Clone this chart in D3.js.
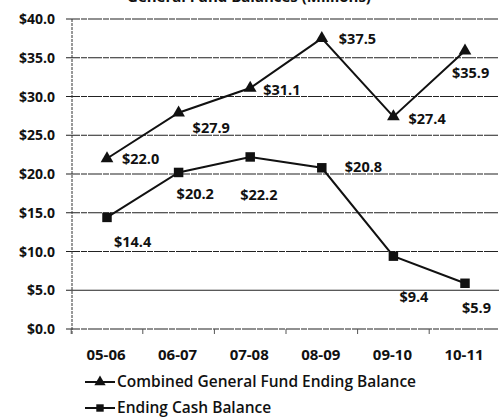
<!DOCTYPE html>
<html>
<head>
<meta charset="utf-8">
<script src="https://cdn.jsdelivr.net/npm/d3@7"></script>
<style>
  body { margin: 0; background: #fff; }
  text { font-family: "Open Sans", "DejaVu Sans", sans-serif; font-weight: 700; fill: #111; }
</style>
</head>
<body>
<svg id="chart" width="499" height="417"></svg>
<script>
var years = ["05-06", "06-07", "07-08", "08-09", "09-10", "10-11"];
var general_fund = [22.0, 27.9, 31.1, 37.5, 27.4, 35.9];
var cash_balance = [14.4, 20.2, 22.2, 20.8, 9.4, 5.9];
var y_ticks = [0, 5, 10, 15, 20, 25, 30, 35, 40];
var series_names = ["Combined General Fund Ending Balance", "Ending Cash Balance"];

// label nudges (dx, dy) per point, Excel put them all over the place
var fund_label_off = [[15, 5], [14, 20], [13, 7], [17, 6], [15, 7], [-13, 27]];
var cash_label_off = [[7, 30], [-2, 27], [-10, 43], [23, 4], [6, 46], [-3, 30]];

var svg = d3.select("#chart");

var x = d3.scalePoint()
    .domain(years)
    .range([107, 465]);
var y = d3.scaleLinear()
    .domain([0, 40])
    .range([329, 19]);

// title, cut off by the top of the picture
svg.append("text")
    .attr("x", 249)
    .attr("y", 2)
    .attr("text-anchor", "middle")
    .style("font-size", "15px")
    .text("General Fund Balances (Millions)");

// gridlines
svg.selectAll(".grid").data(y_ticks).enter().append("line")
    .attr("class", "grid")
    .attr("x1", 66).attr("x2", 499)
    .attr("y1", function(d) { return y(d); })
    .attr("y2", function(d) { return y(d); })
    .attr("stroke", "#222")
    .attr("stroke-width", 1.2)
    .attr("stroke-dasharray", function(d) { return d == 5 ? null : "14,1,6,1"; });

// y axis line
svg.append("line")
    .attr("x1", 72).attr("x2", 72)
    .attr("y1", y(40)).attr("y2", y(0) + 6)
    .attr("stroke", "#333")
    .attr("stroke-width", 1)
    .attr("stroke-dasharray", "3,1");

// category boundary ticks
var step = x.step();
svg.selectAll(".xtick").data(d3.range(years.length)).enter().append("line")
    .attr("x1", function(i) { return x(years[i]) - step / 2; })
    .attr("x2", function(i) { return x(years[i]) - step / 2; })
    .attr("y1", y(0)).attr("y2", y(0) + 5)
    .attr("stroke", "#555");

svg.selectAll(".ylab").data(y_ticks).enter().append("text")
    .attr("x", 55)
    .attr("y", function(d) { return y(d) + 5; })
    .attr("text-anchor", "end")
    .style("font-size", "14px")
    .text(function(d) { return "$" + d.toFixed(1); });

svg.selectAll(".xlab").data(years).enter().append("text")
    .attr("x", function(d) { return x(d) - 1; })
    .attr("y", 360)
    .attr("text-anchor", "middle")
    .style("font-size", "15px")
    .text(function(d) { return d; });

var line = d3.line()
    .x(function(d, i) { return x(years[i]); })
    .y(function(d) { return y(d); });

function drawSeries(values, shape, offsets) {
    svg.append("path")
        .datum(values)
        .attr("d", line)
        .attr("fill", "none")
        .attr("stroke", "#111")
        .attr("stroke-width", 2);

    svg.selectAll(null).data(values).enter().append("path")
        .attr("transform", function(d, i) { return "translate(" + x(years[i]) + "," + y(d) + ")"; })
        .attr("d", d3.symbol().type(shape).size(shape == d3.symbolTriangle ? 70 : 90))
        .attr("fill", "#111");

    svg.selectAll(null).data(values).enter().append("text")
        .attr("x", function(d, i) { return x(years[i]) + offsets[i][0]; })
        .attr("y", function(d, i) { return y(d) + offsets[i][1]; })
        .attr("text-anchor", "start")
        .style("font-size", "14.5px")
        .text(function(d) { return "$" + d.toFixed(1); });
}

drawSeries(general_fund, d3.symbolTriangle, fund_label_off);
drawSeries(cash_balance, d3.symbolSquare, cash_label_off);

// legend
var shapes = [d3.symbolTriangle, d3.symbolSquare];
series_names.forEach(function(name, i) {
    var ly = 382 + i * 26;
    svg.append("line")
        .attr("x1", 85).attr("x2", 115)
        .attr("y1", ly).attr("y2", ly)
        .attr("stroke", "#111").attr("stroke-width", 2);
    svg.append("path")
        .attr("transform", "translate(100," + ly + ")")
        .attr("d", d3.symbol().type(shapes[i]).size(55))
        .attr("fill", "#111");
    svg.append("text")
        .attr("x", 117)
        .attr("y", ly + 5)
        .style("font-size", "15.5px")
        .style("font-weight", 600)
        .text(name);
});
</script>
</body>
</html>
